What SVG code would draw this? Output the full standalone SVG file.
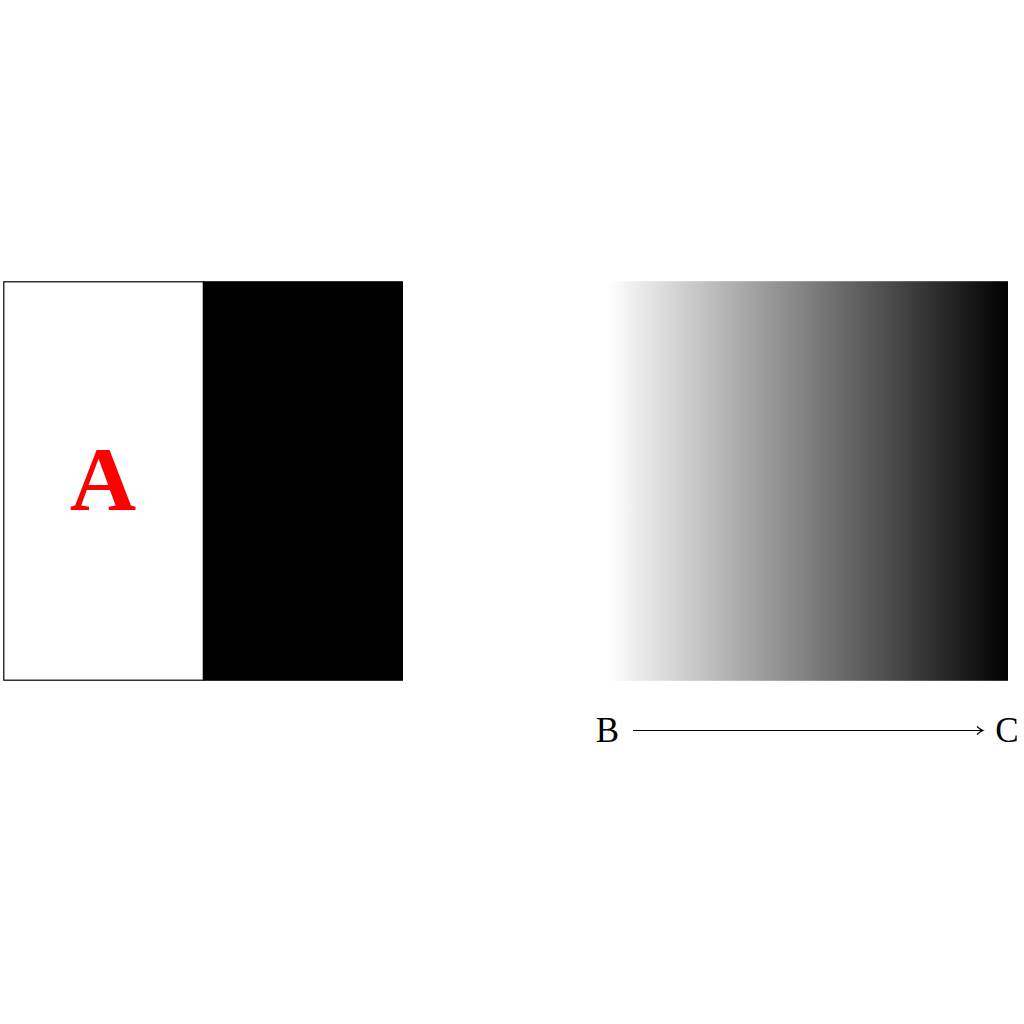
<svg xmlns="http://www.w3.org/2000/svg" width="1024" height="1024" viewBox="0 0 1024 1024">
<style>
.lbl{font-family:"Liberation Serif","DejaVu Serif",serif;font-size:35px;fill:#000}
.edge{stroke:#000;stroke-width:1.2;fill:none}
</style>
<defs>
<linearGradient id="g" x1="0" y1="0" x2="1" y2="0">
<stop offset="0" stop-color="#fff"/>
<stop offset="1" stop-color="#000"/>
</linearGradient>
<marker id="arr" markerWidth="12" markerHeight="12" refX="9" refY="6" orient="auto" markerUnits="userSpaceOnUse">
<path d="M3,2 Q6,5 9,6 Q6,7 3,10" fill="none" stroke="#000" stroke-width="1.1"/>
</marker>
</defs>
<rect width="1024" height="1024" fill="#fff"/>
<g id="panelA">
<rect x="3.8" y="281.8" width="199.5" height="398.4" fill="#fff" stroke="#000" stroke-width="1.2"/>
<rect x="203" y="281.2" width="200" height="399.6" fill="#000"/>
<text x="103" y="510" text-anchor="middle" font-family="Liberation Serif, serif" font-weight="bold" font-size="92" fill="#ff0000">A</text>
</g>
<g id="gradient">
<rect x="608" y="281.2" width="400" height="399.6" fill="url(#g)"/>
</g>
<g id="nodeB"><text class="lbl" x="607.5" y="742" text-anchor="middle">B</text></g>
<g id="nodeC"><text class="lbl" x="1007" y="742" text-anchor="middle">C</text></g>
<g id="connectors">
<line class="edge" x1="633" y1="730.5" x2="983" y2="730.5" marker-end="url(#arr)"/>
</g>
</svg>
